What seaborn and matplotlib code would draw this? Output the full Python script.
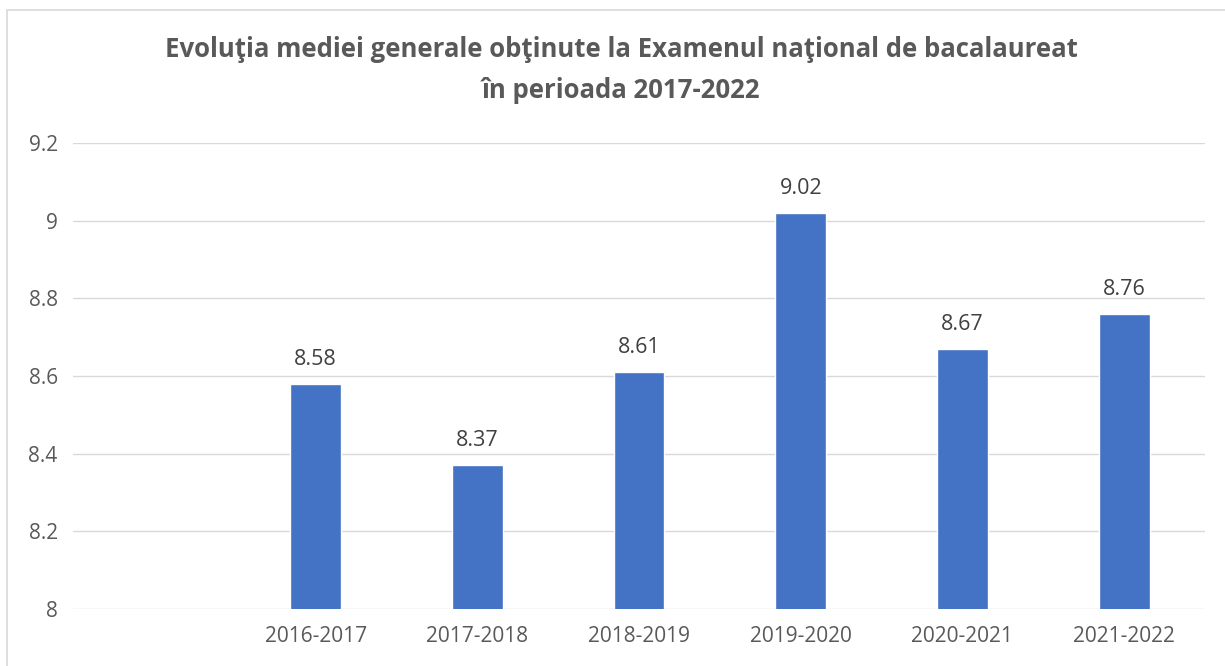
import matplotlib
matplotlib.use("Agg")
import matplotlib.pyplot as plt
import matplotlib.ticker as mticker
import pandas as pd
import seaborn as sns
from matplotlib.patches import Rectangle

# Data (first category slot is empty in the original)
categories = ["", "2016-2017", "2017-2018", "2018-2019", "2019-2020", "2020-2021", "2021-2022"]
years = ["2016-2017", "2017-2018", "2018-2019", "2019-2020", "2020-2021", "2021-2022"]
averages = [8.58, 8.37, 8.61, 9.02, 8.67, 8.76]
y_ticks = [8, 8.2, 8.4, 8.6, 8.8, 9, 9.2]

TITLE = "Evoluţia mediei generale obţinute la Examenul naţional de bacalaureat\nîn perioada 2017-2022"
BAR = "#4472C4"
TEXT = "#595959"
GRID = "#D9D9D9"

sns.set_theme(style="white")
plt.rcParams["font.family"] = ["Open Sans", "DejaVu Sans"]

df = pd.DataFrame({"year": years, "avg": averages})

fig = plt.figure(figsize=(12.25, 6.66), dpi=100)
ax = fig.add_axes([73 / 1225, 1 - 609 / 666, 1132 / 1225, 466 / 666])

sns.barplot(data=df, x="year", y="avg", order=categories, color=BAR,
            saturation=1, width=0.315, ax=ax)

ax.set_ylim(8, 9.2)
ax.set_yticks(y_ticks)
ax.yaxis.set_major_formatter(mticker.FormatStrFormatter("%g"))
ax.grid(axis="y", color=GRID, linewidth=1)
ax.set_axisbelow(True)
for s in ax.spines.values():
    s.set_visible(False)
ax.tick_params(axis="both", length=0, colors=TEXT, labelsize=15)
ax.tick_params(axis="y", pad=11)
ax.tick_params(axis="x", pad=12)
ax.set_xlabel("")
ax.set_ylabel("")

for c in ax.containers:
    ax.bar_label(c, fmt="%.2f", padding=10, color="#404040", fontsize=15.5)

fig.text(0.507, 1 - 70 / 666, TITLE, ha="center", va="center",
         fontsize=18.5, fontweight="bold", color=TEXT, linespacing=1.65)

# light outer frame like the original chart area
fig.patches.append(Rectangle((7 / 1225, -0.01), 1.02, 1 - 10 / 666 + 0.01,
                             transform=fig.transFigure, fill=False,
                             edgecolor="#D9D9D9", linewidth=1.2))

fig.savefig("out.png", dpi=100)
